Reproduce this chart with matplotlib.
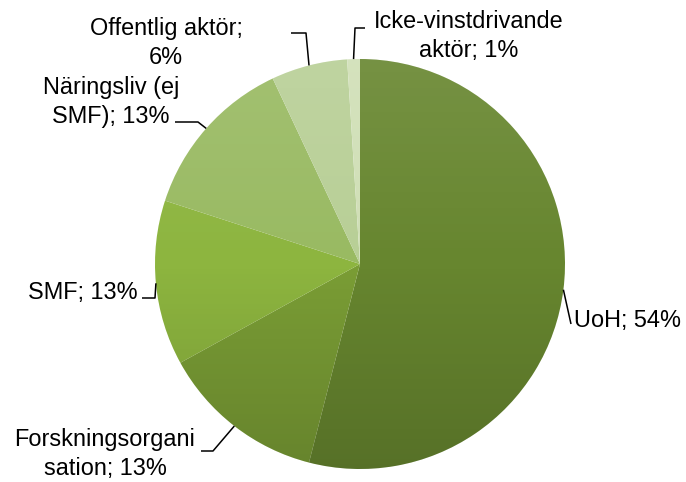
import matplotlib
matplotlib.use("Agg")
import matplotlib.pyplot as plt
import numpy as np
from matplotlib.patches import Circle

# ---- data ----
categories = ["UoH", "Forskningsorganisation", "SMF", "Näringsliv (ej SMF)",
              "Offentlig aktör", "Icke-vinstdrivande aktör"]
label_texts = ["UoH; 54%", "Forskningsorgani\nsation; 13%", "SMF; 13%",
               "Näringsliv (ej\nSMF); 13%", "Offentlig aktör;\n6%",
               "Icke-vinstdrivande\naktör; 1%"]
values = [54, 13, 13, 13, 6, 1]
colors = ["#67862F", "#7A9D35", "#8DB53F", "#99BA62", "#B8CF96", "#D0DFB6"]

# ---- layout (pixel coordinates, y down) ----
W, H = 686, 482
cx, cy, R = 360, 264, 205

def P(x, y):
    return ((x - cx) / R, (cy - y) / R)

# text anchor (x, y, ha), elbow point, end point of leader
text_pos = [(574, 320, "left"), (105, 454, "center"), (138, 292, "right"),
            (111, 102, "center"), (166, 43, "center"), (469, 36, "center")]
elbows = [(571, 324), (213, 451), (155, 298), (198, 122), (306, 33), (355, 28)]
ends = [(571, 324), (201, 451), (142, 298), (175, 122), (291, 33), (365, 28)]

plt.rcParams['font.family'] = ['Liberation Sans', 'DejaVu Sans']
fig = plt.figure(figsize=(W / 100, H / 100), dpi=100)
ax = fig.add_axes([0, 0, 1, 1])

wedges, _ = ax.pie(values, colors=colors, startangle=90, counterclock=False,
                   radius=1, center=(0, 0), wedgeprops=dict(linewidth=0))
ax.set_aspect('equal')
ax.axis('off')

# subtle vertical shading over the pie
grad = np.zeros((256, 1, 4))
t = np.linspace(0, 1, 256)  # 0 top -> 1 bottom
grad[:, 0, :3] = np.where(t[:, None] < 0.5, 1.0, 0.0)
grad[:, 0, 3] = np.where(t < 0.5, 0.10 * (0.5 - t) / 0.5, 0.16 * (t - 0.5) / 0.5)
im = ax.imshow(grad, extent=(-1, 1, -1, 1), aspect='auto', zorder=3,
               interpolation='bilinear')
im.set_clip_path(Circle((0, 0), 1, transform=ax.transData))
ax.set_xlim(-cx / R, (W - cx) / R)
ax.set_ylim(-(H - cy) / R, cy / R)

for w, txt, (tx, ty, ha), el, en in zip(wedges, label_texts, text_pos, elbows, ends):
    ang = np.deg2rad((w.theta1 + w.theta2) / 2)
    px, py = np.cos(ang), np.sin(ang)
    ex, ey = P(*el)
    nx, ny = P(*en)
    ax.plot([px, ex, nx], [py, ey, ny], color="black", lw=1.1, zorder=4,
            solid_capstyle='butt')
    x, y = P(tx, ty)
    ax.text(x, y, txt, ha=ha, va="center", multialignment="center",
            fontsize=16.9, color="black", linespacing=1.32, zorder=5)

fig.savefig("out.png", dpi=100)
